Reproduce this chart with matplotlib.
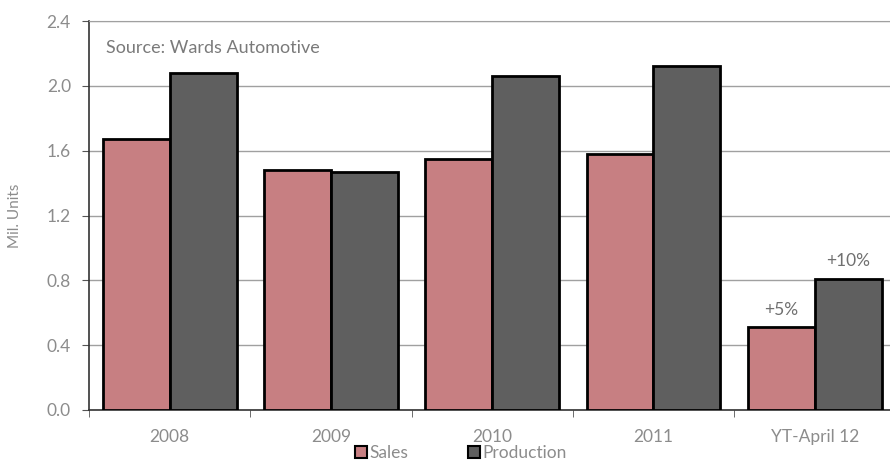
import matplotlib
matplotlib.use("Agg")
import matplotlib.pyplot as plt
import numpy as np
from matplotlib.patches import Patch

categories = ["2008", "2009", "2010", "2011", "YT-April 12"]
sales = [1.67, 1.48, 1.55, 1.58, 0.51]
production = [2.08, 1.47, 2.06, 2.12, 0.81]
yticks = [0.0, 0.4, 0.8, 1.2, 1.6, 2.0, 2.4]
annotations = {4: ("+5%", "+10%")}

plt.rcParams['font.family'] = ['Lato', 'DejaVu Sans']
gray = '#8c8c8c'
sales_c = '#c77f82'
prod_c = '#5f5f5f'

fig = plt.figure(figsize=(8.9, 4.63), dpi=100)
ax = fig.add_axes([0.1, 0.1145, 0.906, 0.84])

x = np.arange(len(categories))
w = 0.415
ax.bar(x - w/2, sales, w, color=sales_c, edgecolor='black', linewidth=2, zorder=3)
ax.bar(x + w/2, production, w, color=prod_c, edgecolor='black', linewidth=2, zorder=3)

for i, (a, b) in annotations.items():
    ax.text(i - w/2, sales[i] + 0.06, a, ha='center', va='bottom', color='#707070', fontsize=12.5)
    ax.text(i + w/2, production[i] + 0.06, b, ha='center', va='bottom', color='#707070', fontsize=12.5)

ax.set_xlim(-0.5, 4.5)
ax.set_ylim(0, 2.4)
ax.set_yticks(yticks)
ax.set_yticklabels([f"{v:.1f}" for v in yticks])
ax.set_xticks(x)
ax.set_xticklabels(categories)
ax.set_xticks(np.arange(-0.5, 4.6, 1), minor=True)
ax.tick_params(axis='x', which='major', length=0, pad=14, labelcolor=gray, labelsize=12.5)
ax.tick_params(axis='x', which='minor', length=5, color='#555555', direction='out')
ax.tick_params(axis='y', length=5, color='#555555', labelcolor=gray, labelsize=12.5, pad=8)
ax.yaxis.grid(True, color='#a0a0a0', linewidth=1, zorder=0)
ax.set_axisbelow(True)
ax.spines['right'].set_visible(False)
ax.spines['top'].set_color('#a0a0a0')
ax.spines['left'].set_color('#333333')
ax.spines['bottom'].set_color('#333333')
ax.spines['left'].set_linewidth(1.2)
ax.spines['bottom'].set_linewidth(1.2)

ax.set_ylabel("Mil. Units", color=gray, fontsize=11, labelpad=18)
ax.text(0.021, 0.93, "Source: Wards Automotive", transform=ax.transAxes, color='#7a7a7a', fontsize=13, va='center')

handles = [Patch(facecolor=sales_c, edgecolor='black', linewidth=1.5),
           Patch(facecolor=prod_c, edgecolor='black', linewidth=1.5)]
fig.legend(handles, ["Sales", "Production"], loc='lower center', bbox_to_anchor=(0.518, -0.03),
           ncol=2, frameon=False, fontsize=12.5, labelcolor=gray, handlelength=0.7, handleheight=0.7,
           handletextpad=0.15, columnspacing=3.4)

fig.savefig("out.png", dpi=100)
